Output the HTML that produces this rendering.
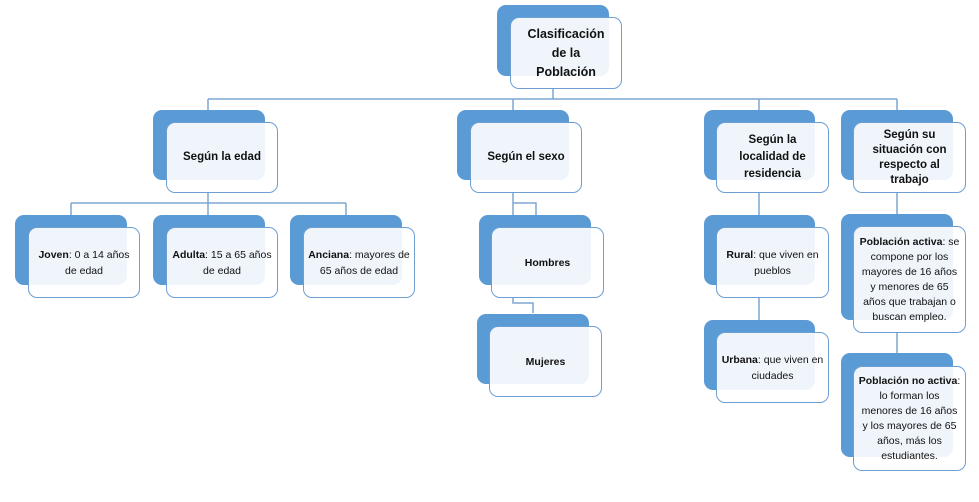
<!DOCTYPE html>
<html><head><meta charset="utf-8"><style>
body{margin:0;width:979px;height:502px;background:#fff;position:relative;overflow:hidden;font-family:"Liberation Sans",sans-serif;}
.b{position:absolute;background:#5b9bd5;border-radius:9px;}
.f{position:absolute;background:rgba(255,255,255,0.9);border:1.3px solid #6d9fd3;border-radius:9px;box-sizing:border-box;display:flex;align-items:center;justify-content:center;text-align:center;font-size:10.5px;line-height:16px;color:#111;padding:2px 4px;}
.h{font-weight:bold;font-size:11.5px;line-height:17px;}
svg{position:absolute;left:0;top:0;}
</style></head><body>
<svg width="979" height="502"><g stroke="#7ea7d2" stroke-width="1.5" fill="none">
<path d="M553 89V99M208 99H897M208 99V110M513 99V110M759 99V110M897 99V110"/>
<path d="M208 193V203M71 203H346M71 203V215M208 203V215M346 203V215"/>
<path d="M513 193V215M513 203H536V215M513 297V303H533V313"/>
<path d="M759 193V215M759 297V320M897 193V215M897 332V353"/>
</g></svg>
<div class="b" style="left:497px;top:5px;width:112px;height:71px"></div>
<div class="f h" style="left:510px;top:17px;width:112px;height:72px;font-size:12.5px;line-height:19px">Clasificación<br>de la<br>Población</div>

<div class="b" style="left:153px;top:110px;width:112px;height:70px"></div>
<div class="f h" style="left:166px;top:122px;width:112px;height:71px">Según la edad</div>
<div class="b" style="left:457px;top:110px;width:112px;height:70px"></div>
<div class="f h" style="left:470px;top:122px;width:112px;height:71px">Según el sexo</div>
<div class="b" style="left:704px;top:110px;width:111px;height:70px"></div>
<div class="f h" style="left:716px;top:122px;width:113px;height:71px">Según la<br>localidad de<br>residencia</div>
<div class="b" style="left:841px;top:110px;width:112px;height:70px"></div>
<div class="f h" style="left:853px;top:122px;width:113px;height:71px;line-height:15px">Según su<br>situación con<br>respecto al<br>trabajo</div>

<div class="b" style="left:15px;top:215px;width:112px;height:70px"></div>
<div class="f" style="left:28px;top:227px;width:112px;height:71px"><span><b>Joven</b>: 0 a 14 años de edad</span></div>
<div class="b" style="left:153px;top:215px;width:112px;height:70px"></div>
<div class="f" style="left:166px;top:227px;width:112px;height:71px"><span><b>Adulta</b>: 15 a 65 años de edad</span></div>
<div class="b" style="left:290px;top:215px;width:112px;height:70px"></div>
<div class="f" style="left:303px;top:227px;width:112px;height:71px"><span><b>Anciana</b>: mayores de 65 años de edad</span></div>

<div class="b" style="left:479px;top:215px;width:112px;height:70px"></div>
<div class="f" style="left:491px;top:227px;width:113px;height:71px"><b>Hombres</b></div>
<div class="b" style="left:477px;top:314px;width:112px;height:70px"></div>
<div class="f" style="left:489px;top:326px;width:113px;height:71px"><b>Mujeres</b></div>

<div class="b" style="left:704px;top:215px;width:111px;height:70px"></div>
<div class="f" style="left:716px;top:227px;width:113px;height:71px"><span><b>Rural</b>: que viven en pueblos</span></div>
<div class="b" style="left:704px;top:320px;width:111px;height:70px"></div>
<div class="f" style="left:716px;top:332px;width:113px;height:71px"><span><b>Urbana</b>: que viven en ciudades</span></div>

<div class="b" style="left:841px;top:214px;width:112px;height:106px"></div>
<div class="f" style="left:853px;top:226px;width:113px;height:107px;line-height:15px"><span><b>Población activa</b>: se compone por los mayores de 16 años y menores de 65 años que trabajan o buscan empleo.</span></div>
<div class="b" style="left:841px;top:353px;width:112px;height:104px"></div>
<div class="f" style="left:853px;top:366px;width:113px;height:105px;line-height:15px"><span><b>Población no activa</b>: lo forman los menores de 16 años y los mayores de 65 años, más los estudiantes.</span></div>
</body></html>
